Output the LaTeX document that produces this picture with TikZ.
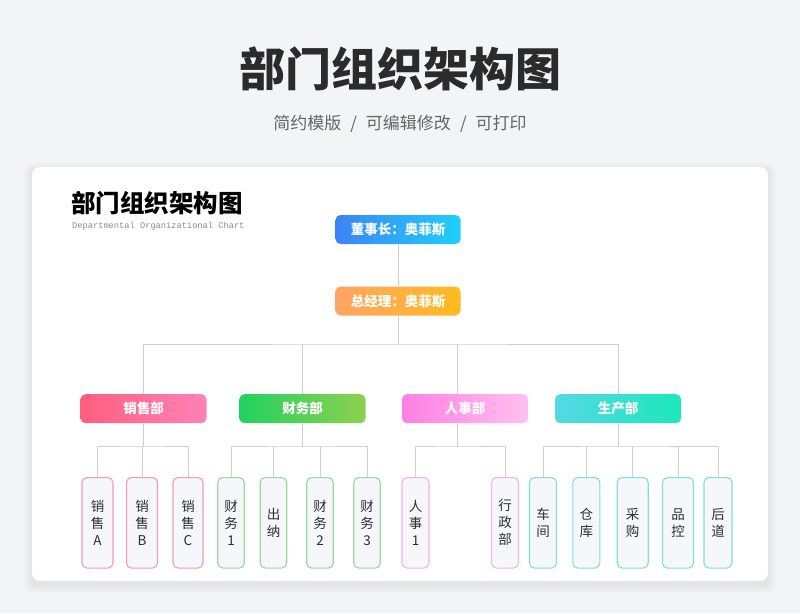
\documentclass[tikz,border=0pt]{standalone}
\usepackage{fontspec}
\setmainfont{Noto Sans CJK SC}
\setmonofont{Liberation Mono}
\definecolor{pagebg}{HTML}{F3F4F6}
\definecolor{linegray}{HTML}{CFCFCF}
\definecolor{titlegray}{HTML}{2B2B2B}
\definecolor{subgray}{HTML}{666666}
\definecolor{leaffill}{HTML}{F6F7FB}
\definecolor{leaftext}{HTML}{2E2E2E}
\definecolor{salesline}{HTML}{F39AB8}
\definecolor{finline}{HTML}{98D99C}
\definecolor{hrline}{HTML}{F2B3EA}
\definecolor{prodline}{HTML}{80E0D3}
\begin{document}
\begin{tikzpicture}[x=1pt,y=-1pt,
	line/.style={draw=linegray,line width=1pt},
	head/.style={rounded corners=5pt,minimum width=125pt,minimum height=29pt,inner sep=0pt,text=white,font=\fontsize{13.5}{16}\selectfont\bfseries},
	dept/.style={head,minimum width=126pt},
	leaf/.style={draw=#1,fill=leaffill,line width=1.1pt,rounded corners=5pt,minimum height=90.5pt,inner sep=0pt,align=center,text=leaftext,font=\fontsize{13.5}{17}\selectfont}]
		\fill [pagebg] (0,0) rectangle (800,613);
		\useasboundingbox (0,0) rectangle (800,613);
		% heading
		\node (title) at (400,69) {\fontsize{46}{50}\selectfont\bfseries\color{titlegray}部门组织架构图};
		\node (subtitle) at (400,124) {\fontsize{17}{20}\selectfont\color{subgray}简约模版\hspace{9pt}/\hspace{9pt}可编辑修改\hspace{9pt}/\hspace{9pt}可打印};
		% card with soft shadow
		\foreach \s in {1,...,8}
			\fill [black,opacity=0.007,rounded corners=8pt] (32-\s,167-\s+3) rectangle (768+\s,581+\s+4);
		\fill [white,rounded corners=8pt] (32,167) rectangle (768,581);
		\node [anchor=west,inner sep=0pt] (cardtitle) at (71,203) {\fontsize{24.5}{28}\selectfont\bfseries 部门组织架构图};
		\node [anchor=west,inner sep=0pt] (cardsub) at (72,226.5) {\fontsize{8.7}{10}\selectfont\ttfamily\color{black!45}Departmental Organizational Chart};
		% top
		\node [head,left color={rgb,255:red,60;green,132;blue,246},right color={rgb,255:red,31;green,208;blue,251}] (chair) at (398,229.5) {董事长：奥菲斯};
		\node [head,left color={rgb,255:red,255;green,164;blue,102},right color={rgb,255:red,255;green,187;blue,30}] (gm) at (398,301) {总经理：奥菲斯};
		% departments
		\node [dept,left color={rgb,255:red,255;green,94;blue,126},right color={rgb,255:red,255;green,130;blue,184}] (sales) at (143.5,408.7) {销售部};
		\node [dept,left color={rgb,255:red,34;green,209;blue,96},right color={rgb,255:red,141;green,209;blue,79}] (fin) at (302.5,408.7) {财务部};
		\node [dept,left color={rgb,255:red,255;green,128;blue,226},right color={rgb,255:red,255;green,192;blue,240}] (hr) at (465,408.7) {人事部};
		\node [dept,left color={rgb,255:red,85;green,216;blue,230},right color={rgb,255:red,28;green,232;blue,184}] (prod) at (618,408.7) {生产部};
		% leaves
		\node [leaf=salesline,minimum width=31pt] (sa) at (97.5,522.8) {销\\售\\A};
		\node [leaf=salesline,minimum width=31pt] (sb) at (142,522.8) {销\\售\\B};
		\node [leaf=salesline,minimum width=30pt] (sc) at (188,522.8) {销\\售\\C};
		\node [leaf=finline,minimum width=26.5pt] (fa) at (231,522.8) {财\\务\\1};
		\node [leaf=finline,minimum width=26.5pt] (fb) at (273.5,522.8) {出\\纳};
		\node [leaf=finline,minimum width=26.5pt] (fc) at (320,522.8) {财\\务\\2};
		\node [leaf=finline,minimum width=26.5pt] (fd) at (367,522.8) {财\\务\\3};
		\node [leaf=hrline,minimum width=27pt] (ha) at (415.5,522.8) {人\\事\\1};
		\node [leaf=hrline,minimum width=27pt] (hb) at (505,522.8) {行\\政\\部};
		\node [leaf=prodline,minimum width=27pt] (pa) at (543,522.8) {车\\间};
		\node [leaf=prodline,minimum width=27pt] (pb) at (586.3,522.8) {仓\\库};
		\node [leaf=prodline,minimum width=31pt] (pc) at (632.7,522.8) {采\\购};
		\node [leaf=prodline,minimum width=31pt] (pd) at (678,522.8) {品\\控};
		\node [leaf=prodline,minimum width=28pt] (pe) at (718,522.8) {后\\道};
		% connectors
		\coordinate (bus) at (398,344);
		\coordinate (sub) at (0,446);
		\coordinate (hrstem) at (457,344);
		\draw [line] (chair) -- (gm);
		\draw [line] (gm) -- (bus);
		\draw [line] (sales.north) |- (bus) -| (prod.north);
		\draw [line] (fin.north) -- (fin.north |- bus);
		\draw [line] (hrstem) -- (hrstem |- hr.north);
		\draw [line] (sales.south) -- (sales.south |- sub);
		\draw [line] (sa.north) |- (sales.south |- sub) -| (sc.north);
		\draw [line] (sb.north) -- (sb.north |- sub);
		\draw [line] (fin.south) -- (fin.south |- sub);
		\draw [line] (fa.north) |- (fin.south |- sub) -| (fd.north);
		\draw [line] (fb.north) -- (fb.north |- sub);
		\draw [line] (fc.north) -- (fc.north |- sub);
		\draw [line] (hrstem |- hr.south) -- (hrstem |- sub);
		\draw [line] (ha.north) |- (hrstem |- sub) -| (hb.north);
		\draw [line] (prod.south) -- (prod.south |- sub);
		\draw [line] (pa.north) |- (prod.south |- sub) -| (pe.north);
		\draw [line] (pb.north) -- (pb.north |- sub);
		\draw [line] (pc.north) -- (pc.north |- sub);
		\draw [line] (pd.north) -- (pd.north |- sub);
	\end{tikzpicture}
\end{document}
